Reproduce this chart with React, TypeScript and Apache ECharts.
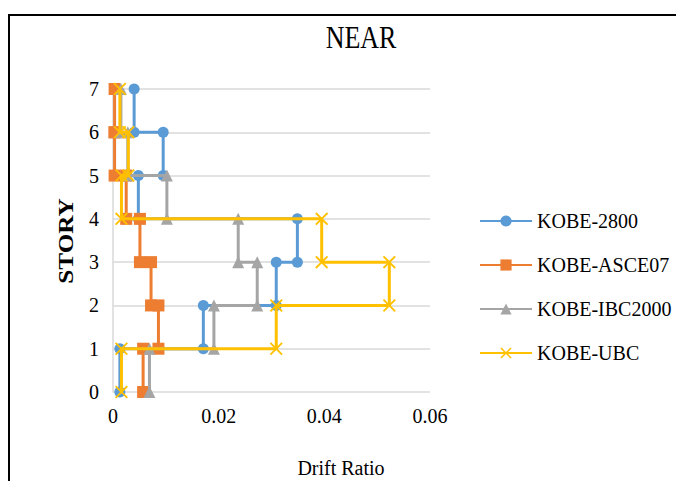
import React, { useEffect, useRef } from "react";
import * as echarts from "echarts";

const stories = [0, 1, 2, 3, 4, 5, 6, 7];
const yTicks = ["0", "1", "2", "3", "4", "5", "6", "7"];
const xTicks = [0, 0.02, 0.04, 0.06];
const seriesNames = ["KOBE-2800", "KOBE-ASCE07", "KOBE-IBC2000", "KOBE-UBC"];
// drift ratio for each story (story 1..7), drawn as step profiles
const drift2800 = [0.0013, 0.0171, 0.0309, 0.0349, 0.0048, 0.0095, 0.004];
const driftASCE07 = [0.0057, 0.0086, 0.0072, 0.0051, 0.0025, 0.0003, 0.0003];
const driftIBC2000 = [0.0069, 0.0191, 0.0273, 0.0237, 0.0102, 0.0028, 0.0015];
const driftUBC = [0.0016, 0.0309, 0.0523, 0.0395, 0.0016, 0.0029, 0.0013];

const colors = ["#5B9BD5", "#ED7D31", "#A5A5A5", "#FFC000"];
const FONT = "'Liberation Serif', 'Times New Roman', serif";

function steps(d: number[]): number[][] {
  const pts: number[][] = [];
  d.forEach((v, i) => {
    pts.push([v, stories[i]]);
    pts.push([v, stories[i + 1]]);
  });
  return pts;
}

const X_SYMBOL =
  "path://M0,1L1,0L5,4L9,0L10,1L6,5L10,9L9,10L5,6L1,10L0,9L4,5Z";

export default function App() {
  const ref = useRef<HTMLDivElement>(null);
  useEffect(() => {
    if (!ref.current) return;
    const chart = echarts.init(ref.current, undefined, { renderer: "svg" });
    const data = [drift2800, driftASCE07, driftIBC2000, driftUBC];
    const symbols = ["circle", "rect", "triangle", X_SYMBOL];
    const sizes = [11, 12, 12, 13];
    chart.setOption({
      animation: false,
      backgroundColor: "#ffffff",
      textStyle: { fontFamily: FONT },
      grid: { left: 113, right: 246, top: 89, bottom: 89 },
      legend: {
        orient: "vertical",
        left: 474,
        top: 204,
        itemWidth: 52,
        itemHeight: 14,
        itemGap: 20,
        data: seriesNames,
        textStyle: { fontFamily: FONT, fontSize: 20, color: "#000", lineHeight: 24 },
      },
      xAxis: {
        type: "value",
        min: 0,
        max: 0.06,
        interval: 0.02,
        splitLine: { show: false },
        axisLine: { show: false },
        axisTick: { show: false },
        axisLabel: {
          fontFamily: FONT,
          fontSize: 20,
          color: "#000",
          margin: 14,
          formatter: (v: number) => {
            const t = xTicks.find((x) => Math.abs(x - v) < 1e-9);
            return t === undefined ? "" : String(t);
          },
        },
      },
      yAxis: {
        type: "value",
        min: 0,
        max: 7,
        interval: 1,
        splitLine: { show: true, lineStyle: { color: "#D9D9D9", width: 1.5 } },
        axisLine: { show: true, lineStyle: { color: "#D9D9D9", width: 1.5 } },
        axisTick: { show: false },
        axisLabel: {
          fontFamily: FONT,
          fontSize: 20,
          color: "#000",
          margin: 14,
          formatter: (v: number) => yTicks[Math.round(v)] ?? "",
        },
      },
      series: seriesNames.map((name, i) => ({
        name,
        type: "line",
        data: steps(data[i]),
        symbol: symbols[i],
        symbolSize: sizes[i],
        showAllSymbol: true,
        lineStyle: { color: colors[i], width: 3 },
        itemStyle: { color: colors[i], borderColor: colors[i], borderWidth: 0 },
        z: 2 + i,
      })),
      graphic: [
        {
          type: "rect",
          shape: { x: 9, y: 15, width: 700, height: 500 },
          style: { fill: "none", stroke: "#000", lineWidth: 2 },
          silent: true,
        },
        {
          type: "text",
          x: 361,
          y: 37,
          scaleY: 1.2,
          style: {
            text: "NEAR",
            font: `26px ${FONT}`,
            fill: "#000",
            textAlign: "center",
            textVerticalAlign: "middle",
          },
        },
        {
          type: "text",
          x: 66,
          y: 241,
          rotation: Math.PI / 2,
          scaleX: 1.2,
          style: {
            text: "STORY",
            font: `bold 21px ${FONT}`,
            fill: "#000",
            textAlign: "center",
            textVerticalAlign: "middle",
          },
        },
        {
          type: "text",
          x: 341,
          y: 468,
          style: {
            text: "Drift Ratio",
            font: `20px ${FONT}`,
            fill: "#000",
            textAlign: "center",
            textVerticalAlign: "middle",
          },
        },
      ],
    });
    return () => chart.dispose();
  }, []);
  return (
    <div
      ref={ref}
      style={{ position: "fixed", left: 0, top: 0, width: 676, height: 481 }}
    />
  );
}
